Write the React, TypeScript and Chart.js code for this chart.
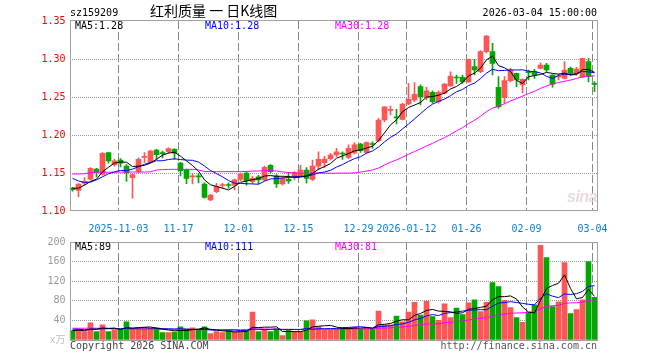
import React, { useEffect, useRef } from 'react';
import { Chart, registerables } from 'chart.js';

Chart.register(...registerables);

const dates = [
  '2025-10-22','2025-10-23','2025-10-24','2025-10-27','2025-10-28','2025-10-29','2025-10-30','2025-10-31',
  '2025-11-03','2025-11-04','2025-11-05','2025-11-06','2025-11-07',
  '2025-11-10','2025-11-11','2025-11-12','2025-11-13','2025-11-14',
  '2025-11-17','2025-11-18','2025-11-19','2025-11-20','2025-11-21',
  '2025-11-24','2025-11-25','2025-11-26','2025-11-27','2025-11-28',
  '2025-12-01','2025-12-02','2025-12-03','2025-12-04','2025-12-05',
  '2025-12-08','2025-12-09','2025-12-10','2025-12-11','2025-12-12',
  '2025-12-15','2025-12-16','2025-12-17','2025-12-18','2025-12-19',
  '2025-12-22','2025-12-23','2025-12-24','2025-12-25','2025-12-26',
  '2025-12-29','2025-12-30','2025-12-31',
  '2026-01-05','2026-01-06','2026-01-07','2026-01-08','2026-01-09',
  '2026-01-12','2026-01-13','2026-01-14','2026-01-15','2026-01-16',
  '2026-01-19','2026-01-20','2026-01-21','2026-01-22','2026-01-23',
  '2026-01-26','2026-01-27','2026-01-28','2026-01-29','2026-01-30',
  '2026-02-02','2026-02-03','2026-02-04','2026-02-05','2026-02-06',
  '2026-02-09','2026-02-10','2026-02-11','2026-02-12','2026-02-13',
  '2026-02-24','2026-02-25','2026-02-26','2026-02-27',
  '2026-03-02','2026-03-03','2026-03-04',
];

const opens = [
  1.130,1.127,1.1365,1.142,1.155,1.148,1.177,1.161,1.167,1.159,
  1.144,1.152,1.1705,1.164,1.180,1.1765,1.178,1.181,1.163,1.154,
  1.145,1.146,1.1355,1.1145,1.1255,1.1335,1.134,1.134,1.1417,1.150,
  1.139,1.145,1.141,1.160,1.146,1.1355,1.1417,1.145,1.146,1.154,
  1.1417,1.159,1.1636,1.169,1.1737,1.176,1.1706,1.1765,1.188,1.177,
  1.1885,1.1925,1.2197,1.2325,1.2235,1.2206,1.241,1.246,1.2636,1.2496,
  1.256,1.244,1.255,1.2645,1.2757,1.2759,1.270,1.290,1.2833,1.3096,
  1.3096,1.2627,1.249,1.2715,1.281,1.2658,1.2825,1.2833,1.2877,1.292,
  1.279,1.2763,1.2746,1.2877,1.281,1.2768,1.2965,1.268,
];
const highs = [
  1.131,1.136,1.144,1.157,1.156,1.177,1.177,1.168,1.169,1.161,
  1.149,1.170,1.177,1.180,1.181,1.179,1.183,1.182,1.164,1.155,
  1.149,1.149,1.137,1.122,1.1365,1.1365,1.137,1.142,1.150,1.152,
  1.146,1.147,1.159,1.161,1.148,1.145,1.151,1.152,1.160,1.157,
  1.167,1.178,1.172,1.176,1.1825,1.178,1.187,1.190,1.189,1.191,
  1.191,1.222,1.2375,1.238,1.2338,1.2417,1.268,1.269,1.266,1.2627,
  1.258,1.258,1.268,1.283,1.279,1.279,1.300,1.2996,1.311,1.331,
  1.3206,1.2768,1.2768,1.2877,1.2815,1.274,1.2855,1.2864,1.295,1.2943,
  1.2795,1.280,1.2965,1.2895,1.289,1.3009,1.301,1.2702,
];
const lows = [
  1.126,1.119,1.134,1.141,1.145,1.147,1.163,1.159,1.158,1.139,
  1.117,1.150,1.164,1.163,1.168,1.170,1.176,1.168,1.146,1.136,
  1.1355,1.137,1.117,1.1135,1.124,1.130,1.130,1.1276,1.140,1.134,
  1.136,1.1355,1.140,1.150,1.131,1.134,1.1364,1.141,1.145,1.1365,
  1.140,1.154,1.157,1.167,1.1715,1.168,1.169,1.175,1.177,1.176,
  1.1825,1.191,1.2175,1.2263,1.2145,1.2197,1.240,1.244,1.2395,1.246,
  1.242,1.242,1.254,1.264,1.268,1.268,1.269,1.279,1.282,1.308,
  1.279,1.2351,1.2417,1.2697,1.2636,1.2557,1.2724,1.2746,1.2868,1.2833,
  1.263,1.2724,1.2737,1.2785,1.279,1.2755,1.270,1.257,
];
const closes = [
  1.128,1.1355,1.139,1.156,1.151,1.176,1.166,1.166,1.163,1.150,
  1.148,1.168,1.171,1.179,1.174,1.1755,1.182,1.176,1.153,1.143,
  1.1455,1.145,1.118,1.121,1.132,1.134,1.1335,1.141,1.1487,1.140,
  1.143,1.141,1.1575,1.1517,1.1355,1.143,1.1395,1.151,1.154,1.143,
  1.159,1.168,1.1684,1.1737,1.178,1.175,1.1825,1.187,1.1795,1.190,
  1.1875,1.2197,1.237,1.233,1.2225,1.2408,1.247,1.2535,1.2504,1.258,
  1.244,1.256,1.267,1.2776,1.275,1.270,1.2996,1.2855,1.3096,1.330,
  1.2943,1.2373,1.2715,1.2846,1.2724,1.2732,1.282,1.279,1.292,1.2855,
  1.267,1.2768,1.2855,1.2811,1.2868,1.3009,1.2768,1.2667,
];
const volumes = [
  19,22,17,35,17,31,17,21,21,37,
  24,24,24,24,24,15,15,16,27,23,
  25,21,27,13,17,15,19,17,17,19,
  57,17,21,17,23,9,19,17,17,39,
  41,27,21,21,22,26,26,26,22,26,
  22,59,31,31,49,37,57,77,51,79,
  48,40,74,46,65,52,76,82,58,77,
  117,109,81,66,46,36,56,72,193,168,
  68,78,158,54,62,82,160,87,
];

const ma5 = [
  1.1300,1.1300,1.1340,1.1390,1.1419,1.1515,1.1576,1.1630,1.1644,1.1642,
  1.1586,1.1590,1.1600,1.1632,1.1680,1.1735,1.1763,1.1773,1.1721,1.1659,
  1.1599,1.1525,1.1409,1.1345,1.1323,1.1300,1.1277,1.1323,1.1378,1.1394,
  1.1412,1.1427,1.1460,1.1466,1.1457,1.1457,1.1454,1.1441,1.1446,1.1461,
  1.1493,1.1550,1.1585,1.1624,1.1694,1.1726,1.1755,1.1792,1.1804,1.1828,
  1.1853,1.1927,1.2027,1.2134,1.2199,1.2306,1.2361,1.2394,1.2428,1.2499,
  1.2506,1.2524,1.2551,1.2605,1.2639,1.2691,1.2778,1.2815,1.2879,1.2989,
  1.3038,1.2913,1.2885,1.2835,1.2720,1.2678,1.2767,1.2782,1.2797,1.2823,
  1.2811,1.2801,1.2814,1.2792,1.2794,1.2862,1.2862,1.2825,
];
const ma10 = [
  1.1430,1.1395,1.1375,1.1380,1.1410,1.1450,1.1490,1.1515,1.1535,1.1531,
  1.1551,1.1583,1.1615,1.1638,1.1661,1.1661,1.1677,1.1687,1.1677,1.1670,
  1.1667,1.1644,1.1591,1.1533,1.1491,1.1450,1.1401,1.1366,1.1362,1.1359,
  1.1356,1.1352,1.1392,1.1422,1.1426,1.1435,1.1441,1.1451,1.1456,1.1459,
  1.1475,1.1502,1.1513,1.1535,1.1578,1.1610,1.1653,1.1689,1.1714,1.1761,
  1.1790,1.1841,1.1910,1.1969,1.2014,1.2080,1.2144,1.2211,1.2281,1.2349,
  1.2406,1.2442,1.2472,1.2517,1.2569,1.2599,1.2651,1.2683,1.2742,1.2814,
  1.2865,1.2846,1.2850,1.2857,1.2855,1.2858,1.2840,1.2834,1.2816,1.2772,
  1.2745,1.2784,1.2798,1.2795,1.2809,1.2837,1.2831,1.2819,
];
const ma30 = [
  1.1487,1.1487,1.1490,1.1505,1.1508,1.1510,1.1510,1.1510,1.1512,1.1513,
  1.1513,1.1513,1.1513,1.1515,1.1540,1.1545,1.1548,1.1548,1.1548,1.1548,
  1.1548,1.1540,1.1520,1.1518,1.1518,1.1518,1.1518,1.1518,1.1518,1.1520,
  1.1525,1.1526,1.1533,1.1531,1.1526,1.1515,1.1506,1.1501,1.1498,1.1496,
  1.1500,1.1500,1.1499,1.1497,1.1498,1.1498,1.1498,1.1502,1.1511,1.1526,
  1.1540,1.1565,1.1605,1.1642,1.1672,1.1708,1.1746,1.1783,1.1817,1.1857,
  1.1890,1.1929,1.1965,1.2007,1.2054,1.2096,1.2149,1.2194,1.2246,1.2308,
  1.2353,1.2377,1.2411,1.2448,1.2479,1.2512,1.2545,1.2576,1.2613,1.2645,
  1.2672,1.2691,1.2707,1.2723,1.2744,1.2764,1.2774,1.2779,
];
const volMa5 = [
  19,20,19,22,22,24.4,23.4,24.2,21.4,25.4,
  24,25.4,26,26.6,24,22.2,20.4,18.8,19.4,19.2,
  21.2,22.4,24.6,21.8,20.6,18.6,18.2,16.2,17,17.4,
  25.8,25.4,26.2,26.2,27,17.4,17.8,17,17,20.2,
  26.6,28.2,29,29.8,26.4,23.4,23.2,24.2,24.4,25.2,
  24.4,31,32,33.8,38.4,41.4,41,50.2,54.2,60.2,
  62.4,59,58.4,57.4,54.6,55.4,62.6,64.2,66.6,69,
  82,88.6,88.4,90,83.8,67.6,57,55.2,80.6,105,
  111.4,115.8,133,105.2,84,86.8,103.2,89,
];
const volMa10 = [
  22,22,21,22,22,23,23,23,23,23.7,
  24.2,24.4,25.1,24,24.7,23.1,22.9,22.4,23,21.6,
  21.7,21.4,21.7,20.6,19.9,19.9,20.3,20.4,19.4,19,
  22.2,21.8,21.2,21.6,22.2,21.6,21.6,21.6,21.6,23.6,
  22,23,23,23.4,23.3,25,25.7,26.6,27.1,25.8,
  23.9,27.1,28.1,29.1,31.8,32.9,36,41.1,44,49.3,
  51.9,50,54.3,55.8,57.4,58.9,60.8,61.3,62,61.8,
  68.7,75.6,76.3,78.3,76.4,74.8,72.8,71.8,85.3,94.4,
  89.5,86.4,94.1,92.9,94.5,99.1,109.5,111,
];
const volMa30 = [
  24,24,24,24,24,24,24,24,22,22,
  22,22,22,22,22,22,22,22,22,22,
  22,21,21,21,21,21,21,21,21,21.4,
  22.7,22.5,22.7,22.1,22.3,21.5,21.6,21.5,21.3,21.4,
  22.0,22.1,22.0,21.9,21.8,22.2,22.5,22.9,22.7,22.8,
  22.7,24.0,24.1,24.7,25.8,26.5,27.8,29.8,30.9,32.9,
  32.6,33.4,35.1,36.1,37.5,38.9,40.8,43.0,44.4,45.6,
  48.2,50.9,52.9,54.4,55.2,55.5,56.5,58.1,63.8,68.5,
  70.0,70.7,74.9,75.7,76.1,77.6,81.0,81.4,
];

const tickDates = ['2025-11-03','2025-11-17','2025-12-01','2025-12-15','2025-12-29','2026-01-12','2026-01-26','2026-02-09','2026-03-04'];
const tickLabels = ['2025-11-03','11-17','12-01','12-15','12-29','2026-01-12','01-26','02-09','03-04'];

const MONO = '"DejaVu Sans Mono", "Noto Sans CJK SC", monospace';
const UP = '#ff5555';
const DOWN = '#00a800';
const GRID = '#999999';
const VGRID = '#888888';
const FRAME = '#a0a0a0';

const candleColors = closes.map((c, i) => (c >= opens[i] ? UP : DOWN));
const tickIndexes = tickDates.map((d) => dates.indexOf(d));

function makeFrame(id: string, topAdj: number, botAdj: number) {
  return {
    id,
    beforeDatasetsDraw(chart: any) {
      const ctx: CanvasRenderingContext2D = chart.ctx;
      const area = chart.chartArea;
      const step = (area.right - area.left) / dates.length;
      const top = Math.round(area.top);
      const bottom = Math.round(area.bottom);
      ctx.save();
      ctx.beginPath();
      ctx.lineWidth = 1;
      ctx.strokeStyle = VGRID;
      ctx.setLineDash([8, 3]);
      for (let k = 0; k < tickIndexes.length; k++) {
        const i = tickIndexes[k];
        if (i < 0) continue;
        const x = Math.floor(area.left + step * i + 0.5) + 0.5;
        ctx.moveTo(x, top);
        ctx.lineTo(x, bottom);
      }
      ctx.stroke();
      ctx.restore();
    },
    afterDatasetsDraw(chart: any) {
      const ctx: CanvasRenderingContext2D = chart.ctx;
      const area = chart.chartArea;
      const x1 = Math.floor(area.left) + 1.5;
      const x2 = Math.floor(area.right) + 0.5;
      const y1 = area.top + topAdj;
      const y2 = area.bottom + botAdj;
      ctx.save();
      ctx.setLineDash([]);
      ctx.lineWidth = 1;
      ctx.strokeStyle = FRAME;
      ctx.strokeRect(x1, y1, x2 - x1, y2 - y1);
      ctx.restore();
    },
  };
}

const lineDs = (data: number[], color: string) => ({
  type: 'line' as const,
  data,
  borderColor: color,
  backgroundColor: color,
  borderWidth: 1,
  pointRadius: 0,
  tension: 0,
  fill: false,
  order: 0,
});

function Txt(props: { x: number; base: number; color: string; right?: boolean; children: any }) {
  const { x, base, color, right, children } = props;
  const style: any = {
    position: 'absolute',
    top: base - 8.5,
    font: `10px ${MONO}`,
    lineHeight: '10px',
    color,
    whiteSpace: 'pre',
  };
  if (right) style.right = 660 - x;
  else style.left = x;
  return <div style={style}>{children}</div>;
}

export default function App() {
  const pRef = useRef<HTMLCanvasElement>(null);
  const vRef = useRef<HTMLCanvasElement>(null);

  useEffect(() => {
    const xTick = (_v: any, idx: number) => {
      const k = tickIndexes.indexOf(idx);
      return k >= 0 ? tickLabels[k] : '';
    };

    const price = new Chart(pRef.current as HTMLCanvasElement, {
      type: 'bar',
      data: {
        labels: dates,
        datasets: [
          lineDs(ma5, '#000000'),
          lineDs(ma10, '#0000ff'),
          lineDs(ma30, '#ff00ff'),
          {
            type: 'bar',
            data: opens.map((o, i) => [o, closes[i]]) as any,
            backgroundColor: candleColors,
            borderWidth: 0,
            barThickness: 5,
            minBarLength: 1,
            grouped: false,
            order: 1,
          } as any,
          {
            type: 'bar',
            data: lows.map((l, i) => [l, highs[i]]) as any,
            backgroundColor: candleColors,
            borderWidth: 0,
            barThickness: 1,
            grouped: false,
            order: 2,
          } as any,
        ],
      },
      options: {
        animation: false,
        responsive: false,
        devicePixelRatio: 1,
        events: [],
        layout: { padding: { left: 0, top: 21, right: 62.5, bottom: 0 }, autoPadding: false } as any,
        plugins: { legend: { display: false }, tooltip: { enabled: false }, title: { display: false } },
        scales: {
          x: {
            type: 'category',
            offset: true,
            grid: { display: false },
            border: { display: false },
            ticks: {
              autoSkip: false,
              maxRotation: 0,
              minRotation: 0,
              callback: xTick,
              color: '#0a7ed0',
              font: { family: MONO, size: 10 },
              padding: 4,
              labelOffset: -2,
            },
            afterFit: (s: any) => {
              s.height = 21;
              s.paddingLeft = 0;
              s.paddingRight = 0;
            },
          } as any,
          y: {
            type: 'linear',
            min: 1.1,
            max: 1.35,
            grid: {
              drawTicks: false,
              lineWidth: 1,
              color: (c: any) => {
                const v = c.tick ? c.tick.value : undefined;
                return v === undefined || v < 1.11 || v > 1.34 ? 'rgba(0,0,0,0)' : GRID;
              },
            },
            border: { display: false, dash: [1, 1] },
            ticks: {
              stepSize: 0.05,
              callback: (v: any) => Number(v).toFixed(2),
              color: '#ff0000',
              font: { family: MONO, size: 10 },
              padding: 4,
            },
            afterFit: (s: any) => {
              s.width = 69.5;
            },
          } as any,
        },
      },
      plugins: [makeFrame('pframe', -0.5, -0.5)],
    });

    const vol = new Chart(vRef.current as HTMLCanvasElement, {
      type: 'bar',
      data: {
        labels: dates,
        datasets: [
          lineDs(volMa5, '#000000'),
          lineDs(volMa10, '#0000ff'),
          lineDs(volMa30, '#ff00ff'),
          {
            type: 'bar',
            data: volumes,
            backgroundColor: candleColors,
            borderWidth: 0,
            barThickness: 5,
            grouped: false,
            order: 1,
          } as any,
        ],
      },
      options: {
        animation: false,
        responsive: false,
        devicePixelRatio: 1,
        events: [],
        layout: { padding: { left: 0, top: 8, right: 62.5, bottom: 20 }, autoPadding: false } as any,
        plugins: { legend: { display: false }, tooltip: { enabled: false }, title: { display: false } },
        scales: {
          x: {
            type: 'category',
            offset: true,
            display: false,
            grid: { display: false },
          } as any,
          y: {
            type: 'linear',
            min: 0,
            max: 200,
            grid: {
              drawTicks: false,
              lineWidth: 1,
              color: (c: any) => {
                const v = c.tick ? c.tick.value : undefined;
                return v === undefined || v <= 0 || v >= 200 ? 'rgba(0,0,0,0)' : GRID;
              },
            },
            border: { display: false, dash: [1, 1] },
            ticks: {
              stepSize: 40,
              callback: (v: any) => (Number(v) === 0 ? 'x万' : String(v)),
              color: (c: any) => (c.tick && c.tick.value === 0 ? '#c0c0c0' : '#999999'),
              font: { family: MONO, size: 10 },
              padding: 4,
            },
            afterFit: (s: any) => {
              s.width = 69.5;
            },
          } as any,
        },
      },
      plugins: [makeFrame('vframe', 0.5, 0.5)],
    });

    return () => {
      price.destroy();
      vol.destroy();
    };
  }, []);

  return (
    <div style={{ position: 'fixed', left: 0, top: 0, width: 660, height: 360, background: '#ffffff', overflow: 'hidden' }}>
      <canvas ref={pRef} width={660} height={232} style={{ position: 'absolute', left: 0, top: 0, width: 660, height: 232 }} />
      <canvas ref={vRef} width={660} height={128} style={{ position: 'absolute', left: 0, top: 232, width: 660, height: 128 }} />

      <Txt x={70} base={16.5} color="#000000">sz159209</Txt>
      <div style={{ position: 'absolute', left: 150, top: 3, font: '14px "Noto Sans CJK SC", sans-serif', lineHeight: '14px', color: '#000000', whiteSpace: 'pre' }}>
        红利质量 一 日K线图
      </div>
      <Txt x={597} base={16} color="#000000" right>2026-03-04 15:00:00</Txt>

      <Txt x={75} base={29.5} color="#000000">MA5:1.28</Txt>
      <Txt x={205} base={29.5} color="#0000ff">MA10:1.28</Txt>
      <Txt x={335} base={29.5} color="#ff00ff">MA30:1.28</Txt>

      <div style={{ position: 'absolute', left: 567, top: 188, font: 'italic bold 16px "Liberation Sans", sans-serif', color: '#e6dcdc', letterSpacing: '-0.5px' }}>sina</div>

      <Txt x={75} base={250} color="#000000">MA5:89</Txt>
      <Txt x={205} base={250} color="#0000ff">MA10:111</Txt>
      <Txt x={335} base={250} color="#ff00ff">MA30:81</Txt>

      <Txt x={70} base={349.5} color="#444444">Copyright 2026 SINA.COM</Txt>
      <Txt x={597} base={349.5} color="#555555" right>http://finance.sina.com.cn</Txt>
    </div>
  );
}
